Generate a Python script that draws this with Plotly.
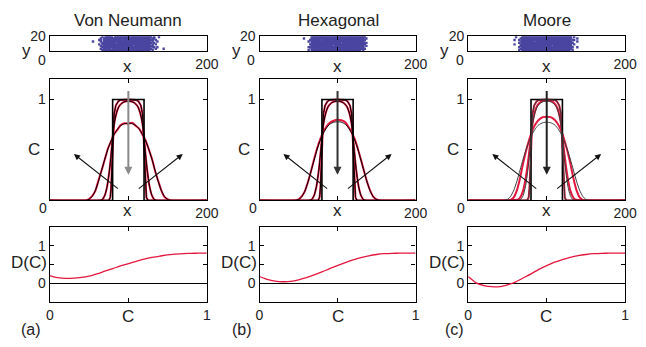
import plotly.graph_objects as go

W, H = 646, 347

titles = ["Von Neumann", "Hexagonal", "Moore"]
panel_tags = ["(a)", "(b)", "(c)"]

# ---------------- strip plots: lattice occupancy (cells of 2 x-units, 2 y-units; x from 50) ----
strip_x0 = 50
strip_cell = 2
vn_rows = [
    "........#." + "#####.######################" + "##.#..#.....",
    ".......#.#" + "############################" + "#.##........",
    "......##.#" + "###########.################" + "###.#.......",
    "..#....#.#" + "############################" + "#.#..#......",
    "........##" + "#######.####################" + "##.#........",
    "......#.##" + "############################" + "#.#.#.......",
    ".......#.#" + "##################.#########" + "###.........",
    "........##" + "############################" + "#.##.#......",
    ".......#.#" + "####.#######################" + "##..#....#..",
    "........##" + "############################" + "#.#.........",
]
hex_rows = [
    "........" + "##################################" + "#.......",
    "...#...." + "##################################" + ".#......",
    ".......#" + "######.###########################" + "#.......",
    "......#." + "##################################" + "........",
    "........" + "###################.##############" + "##......",
    ".......#" + "##################################" + "#.......",
    "........" + "##############.###################" + ".#......",
    "......##" + "##################################" + "........",
    "........" + "##################################" + "#.......",
    "......#." + "################################.#" + "........",
]
moore_rows = [
    ".....#...#" + "##############################" + "#.#.......",
    "........##" + "##############################" + "#...#.....",
    "....#..#.#" + "##############################" + ".##.......",
    "........##" + "#######.######################" + "#...#.....",
    ".......#.#" + "##############################" + "##........",
    "....#...##" + "##############################" + "#.#.......",
    "........##" + "##################.###########" + "#.........",
    ".......#.#" + "##############################" + "##..#.....",
    "........##" + "##############################" + "#.........",
    ".......#.#" + "##############################" + ".#........",
]
strip_rows = [vn_rows, hex_rows, moore_rows]

# ---------------- concentration profiles C(x) ----------------
step_x = [0, 80, 80, 120, 120, 200]
step_c = [0, 0, 1, 1, 0, 0]

t1_x = [0, 75, 77, 78, 79, 80, 81, 82, 84, 87, 90, 100, 110, 113, 116, 118, 119, 120, 121, 122, 123, 125, 200]
t1_c = [0, 0, 0.03, 0.12, 0.3, 0.5, 0.7, 0.86, 0.94, 0.98, 0.995, 1.0, 0.995, 0.98, 0.94, 0.86, 0.7, 0.5, 0.3, 0.12, 0.03, 0, 0]

t2_x = [0, 64, 67, 70, 73, 76, 78, 80, 82, 85, 88, 92, 96, 100, 104, 108, 112, 115, 118, 120, 122, 124, 127, 130, 133, 136, 200]
t2_c = [0, 0, 0.01, 0.05, 0.14, 0.3, 0.45, 0.62, 0.76, 0.87, 0.93, 0.965, 0.98, 0.985, 0.98, 0.965, 0.93, 0.87, 0.76, 0.62, 0.45, 0.3, 0.14, 0.05, 0.01, 0, 0]
t2_c_moore_red = [0, 0.01, 0.04, 0.1, 0.21, 0.37, 0.5, 0.64, 0.77, 0.88, 0.94, 0.975, 0.99, 0.99, 0.99, 0.975, 0.94, 0.88, 0.77, 0.64, 0.5, 0.37, 0.21, 0.1, 0.04, 0.01, 0]

bell_x = [0, 46, 50, 54, 58, 62, 66, 70, 74, 78, 82, 86, 90, 95, 100, 105, 110, 114, 118, 122, 126, 130, 134, 138, 142, 146, 150, 154, 200]
vn_bell_black = [0, 0, .01, .04, .10, .19, .30, .41, .51, .59, .655, .705, .74, .76, .765, .76, .74, .705, .655, .59, .51, .41, .30, .19, .10, .04, .01, 0, 0]
vn_bell_red = [0, 0, .015, .045, .095, .20, .30, .405, .515, .585, .66, .70, .745, .765, .76, .77, .735, .71, .65, .595, .505, .415, .295, .195, .10, .035, .012, 0, 0]
hex_bell_black = [0, 0, .008, .035, .09, .18, .29, .40, .51, .60, .67, .72, .755, .775, .78, .775, .755, .72, .67, .60, .51, .40, .29, .18, .09, .035, .008, 0, 0]
hex_bell_red = [0, 0, .01, .04, .09, .18, .29, .41, .52, .61, .68, .735, .77, .79, .80, .795, .775, .73, .675, .61, .515, .405, .29, .18, .095, .035, .01, 0, 0]
moore_bell_black = [0, 0, .01, .04, .10, .19, .30, .41, .51, .595, .665, .715, .75, .77, .775, .77, .75, .715, .665, .595, .51, .41, .30, .19, .10, .04, .01, 0, 0]
moore_bell_red = [0, 0, 0, .005, .03, .10, .22, .37, .50, .61, .70, .76, .80, .825, .83, .825, .80, .76, .70, .61, .50, .37, .22, .10, .03, .005, 0, 0, 0]

bell_black = [vn_bell_black, hex_bell_black, moore_bell_black]
bell_red = [vn_bell_red, hex_bell_red, moore_bell_red]
t2_red = [t2_c, t2_c, t2_c_moore_red]
black_curve_color = ["#000000", "#000000", "#3a3a3a"]

# arrows (tail -> head) in data coords
vert_arrow_tail = (100, 1.1)
vert_arrow_head = (100, 0.255)
left_arrow_tail = (88.6, 0.105)
left_arrow_head = (30.7, 0.46)
right_arrow_tail = (111.4, 0.105)
right_arrow_head = (169.3, 0.46)
vert_arrow_color = ["#8a8a8a", "#333333", "#222222"]

# ---------------- nonlinear diffusivity D(C) ----------------
dc_c = [0, .025, .05, .1, .15, .2, .25, .3, .35, .4, .45, .5, .55, .6, .65, .7, .75, .8, .85, .9, .95, 1]
d_vn = [.20, .17, .15, .13, .135, .155, .19, .25, .32, .39, .46, .52, .585, .64, .685, .72, .755, .775, .79, .795, .80, .80]
d_hex = [.18, .14, .10, .055, .04, .05, .09, .15, .22, .30, .39, .47, .55, .62, .68, .73, .765, .785, .795, .80, .80, .80]
d_moore = [.18, .09, .01, -.06, -.09, -.09, -.04, .03, .14, .25, .37, .47, .56, .63, .69, .735, .765, .785, .795, .80, .80, .80]
d_curves = [d_vn, d_hex, d_moore]

# ---------------- layout geometry (pixels) ----------------
cols_px = [(47, 208), (262, 422), (476, 637)]
rows_px = {"strip": (29, 44), "prof": (73, 197), "diff": (224, 301)}

RED = "#e3173e"
BLUE = "#4a46a0"
FONT = "Liberation Sans, Arial, sans-serif"
TXT = "#222222"


def xdom(c):
    return [cols_px[c][0] / W, cols_px[c][1] / W]


def ydom(r):
    top, bot = rows_px[r]
    return [1 - bot / H, 1 - top / H]


fig = go.Figure()
layout = dict(
    width=W, height=H, margin=dict(l=0, r=0, t=0, b=0),
    paper_bgcolor="white", plot_bgcolor="white", showlegend=False,
    font=dict(family=FONT, size=14, color=TXT),
)
annotations = []

axis_common = dict(showline=True, mirror="ticks", linecolor="black", linewidth=1.3,
                   ticks="inside", ticklen=4, tickcolor="black", tickwidth=1,
                   showgrid=False, zeroline=False, fixedrange=True,
                   tickfont=dict(family=FONT, size=14, color=TXT))


def ann(text, px, py, size=17):
    annotations.append(dict(text=text, x=px / W, y=1 - py / H, xref="paper", yref="paper",
                            showarrow=False, xanchor="center", yanchor="middle",
                            font=dict(family=FONT, size=size, color=TXT)))


for c in range(3):
    off = cols_px[c][0] - cols_px[0][0]
    # ---- strip ----
    k = 1 + c
    xs, ys = [], []
    for ri, row in enumerate(strip_rows[c]):
        yc = 20 - strip_cell * ri - strip_cell / 2
        for ci, ch in enumerate(row):
            if ch == "#":
                xs.append(strip_x0 + strip_cell * ci + strip_cell / 2)
                ys.append(yc)
    fig.add_trace(go.Scatter(x=xs, y=ys, mode="markers", xaxis=f"x{k}", yaxis=f"y{k}",
                             marker=dict(symbol="square", size=2.4, color=BLUE, line=dict(width=0)),
                             hoverinfo="skip"))
    layout[f"xaxis{k}"] = dict(axis_common, domain=xdom(c), range=[0, 200], anchor=f"y{k}",
                               tickvals=[0, 100, 200], ticktext=["", "", "200"])
    layout[f"yaxis{k}"] = dict(axis_common, domain=ydom("strip"), range=[0, 20], anchor=f"x{k}",
                               tickvals=[0, 20], ticktext=["", "20"])
    ann(titles[c], 127.5 + off, 12.5)
    ann("y", 23 + off, 43)
    ann("0", 38.5 + off, 53, 14)
    ann("x", 127 + off, 60)

    # ---- profiles ----
    k = 4 + c
    bc = black_curve_color[c]
    # red simulation curves underneath
    fig.add_trace(go.Scatter(x=t1_x, y=t1_c, mode="lines", xaxis=f"x{k}", yaxis=f"y{k}",
                             line=dict(color=RED, width=2), hoverinfo="skip"))
    fig.add_trace(go.Scatter(x=t2_x, y=t2_red[c], mode="lines", xaxis=f"x{k}", yaxis=f"y{k}",
                             line=dict(color=RED, width=2, shape="spline", smoothing=0.6), hoverinfo="skip"))
    fig.add_trace(go.Scatter(x=bell_x, y=bell_red[c], mode="lines", xaxis=f"x{k}", yaxis=f"y{k}",
                             line=dict(color=RED, width=2, shape="spline", smoothing=0.6), hoverinfo="skip"))
    # black continuum curves
    fig.add_trace(go.Scatter(x=step_x, y=step_c, mode="lines", xaxis=f"x{k}", yaxis=f"y{k}",
                             line=dict(color="black", width=1.6), hoverinfo="skip"))
    fig.add_trace(go.Scatter(x=t1_x, y=t1_c, mode="lines", xaxis=f"x{k}", yaxis=f"y{k}",
                             line=dict(color=bc, width=1), hoverinfo="skip"))
    fig.add_trace(go.Scatter(x=t2_x, y=t2_c, mode="lines", xaxis=f"x{k}", yaxis=f"y{k}",
                             line=dict(color=bc, width=1, shape="spline", smoothing=0.6), hoverinfo="skip"))
    fig.add_trace(go.Scatter(x=bell_x, y=bell_black[c], mode="lines", xaxis=f"x{k}", yaxis=f"y{k}",
                             line=dict(color=bc, width=1, shape="spline", smoothing=0.6), hoverinfo="skip"))
    layout[f"xaxis{k}"] = dict(axis_common, domain=xdom(c), range=[0, 200], anchor=f"y{k}",
                               tickvals=[0, 100, 200], ticktext=["", "", "200"])
    layout[f"yaxis{k}"] = dict(axis_common, domain=ydom("prof"), range=[0, 1.2], anchor=f"x{k}",
                               tickvals=[0, 0.5, 1], ticktext=["", "", "1"])
    for (tail, head, col, wd) in [
        (vert_arrow_tail, vert_arrow_head, vert_arrow_color[c], 2),
        (left_arrow_tail, left_arrow_head, "#111111", 1.1),
        (right_arrow_tail, right_arrow_head, "#111111", 1.1),
    ]:
        annotations.append(dict(x=head[0], y=head[1], ax=tail[0], ay=tail[1],
                                xref=f"x{k}", yref=f"y{k}", axref=f"x{k}", ayref=f"y{k}",
                                showarrow=True, arrowhead=2, arrowsize=1.1 if wd < 1.5 else 0.8,
                                arrowwidth=wd, arrowcolor=col, text=""))
    ann("C", 31 + off, 145)
    ann("0", 40 + off, 205, 14)
    ann("x", 127 + off, 207)

    # ---- D(C) ----
    k = 7 + c
    fig.add_trace(go.Scatter(x=dc_c, y=d_curves[c], mode="lines", xaxis=f"x{k}", yaxis=f"y{k}",
                             line=dict(color=RED, width=1.3, shape="spline", smoothing=0.8), hoverinfo="skip"))
    layout[f"xaxis{k}"] = dict(axis_common, domain=xdom(c), range=[0, 1], anchor=f"y{k}",
                               tickvals=[0, 0.5, 1], ticktext=["0", "", "1"])
    layout[f"yaxis{k}"] = dict(axis_common, domain=ydom("diff"), range=[-0.5, 1.5], anchor=f"x{k}",
                               tickvals=[0, 0.5, 1], ticktext=["0", "", "1"],
                               zeroline=True, zerolinecolor="black", zerolinewidth=1)
    ann("D(C)", 25.5 + off, 260.5)
    ann("C", 127 + off, 316)
    ann(panel_tags[c], [27.5, 244, 462][c], 329, 16)

layout["annotations"] = annotations
fig.update_layout(**layout)
fig.write_html("out.html")
